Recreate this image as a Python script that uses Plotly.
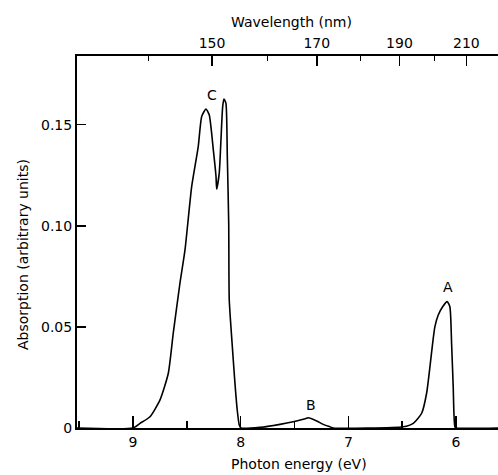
import plotly.graph_objects as go

# Absorption spectrum (photon energy in eV, absorption arb. units)
energy = [9.52, 9.0, 8.935, 8.842, 8.749, 8.672, 8.626, 8.564, 8.517, 8.455, 8.394, 8.362,
          8.322, 8.292, 8.254, 8.229, 8.223, 8.199, 8.183, 8.167, 8.155, 8.137, 8.124, 8.111,
          8.106, 8.084, 8.053, 8.032, 8.013, 7.997, 7.82, 7.635, 7.512, 7.387, 7.372, 7.294,
          7.233, 7.171, 7.14, 6.49, 6.397, 6.319, 6.273, 6.242, 6.217, 6.196, 6.165, 6.124,
          6.082, 6.057, 6.041, 6.026, 6.01, 5.995, 5.61]
absorption = [0.0, 0.0, 0.0023, 0.0056, 0.0139, 0.0271, 0.0469, 0.0716, 0.0881, 0.1194, 0.1392, 0.1541,
              0.1578, 0.1549, 0.1376, 0.1244, 0.1182, 0.1261, 0.1426, 0.1590, 0.1627, 0.1607, 0.1343, 0.1013,
              0.0634, 0.0452, 0.0221, 0.0089, 0.0015, 0.0, 0.0003, 0.0018, 0.0031, 0.0048, 0.0051, 0.0035,
              0.0018, 0.0006, 0.0, 0.0006, 0.0023, 0.0073, 0.0172, 0.0303, 0.0419, 0.0501, 0.0559, 0.0600,
              0.0625, 0.0600, 0.0419, 0.0204, 0.0006, 0.0, 0.0]

peak_labels = ["C", "B", "A"]
peak_label_energy = [8.27, 7.35, 6.075]
peak_label_abs = [0.1645, 0.0115, 0.0695]

energy_ticks = [9, 8, 7, 6]
energy_minor = [9.5, 8.5, 7.5, 6.5]
y_ticks = [0, 0.05, 0.10, 0.15]
y_ticktext = ["0", "0.05", "0.10", "0.15"]
wavelength_ticks = [150, 170, 190, 210]
wavelength_minor = [140, 160, 180, 200]

HC = 1239.84  # eV*nm
x_range = [9.52, 5.61]
y_range = [0, 0.184]

FONT = "DejaVu Sans"
W, H = 498, 475
ML, MR, MT, MB = 77, 0, 56, 47
PW, PH = W - ML - MR, H - MT - MB


def px(xp):
    return (xp - ML) / PW


def py(yp):
    return (H - MB - yp) / PH


fig = go.Figure()
fig.add_trace(go.Scatter(x=energy, y=absorption, mode="lines",
                         line=dict(color="black", width=1.6, shape="spline", smoothing=0.55),
                         showlegend=False, hoverinfo="skip", cliponaxis=True))
fig.add_trace(go.Scatter(x=[energy[0]], y=[0], xaxis="x2", mode="markers",
                         marker=dict(opacity=0), showlegend=False, hoverinfo="skip"))

for t, xe, ya in zip(peak_labels, peak_label_energy, peak_label_abs):
    fig.add_annotation(x=xe, y=ya, text=t, showarrow=False,
                       font=dict(family=FONT, size=14, color="black"))

# axis titles
fig.add_annotation(xref="paper", yref="paper", x=px(291), y=py(22), text="Wavelength (nm)",
                   showarrow=False, xanchor="center", yanchor="middle")
fig.add_annotation(xref="paper", yref="paper", x=px(299), y=py(464), text="Photon energy (eV)",
                   showarrow=False, xanchor="center", yanchor="middle")
fig.add_annotation(xref="paper", yref="paper", x=px(23), y=py(255), text="Absorption (arbitrary units)",
                   showarrow=False, xanchor="center", yanchor="middle", textangle=-90)

fig.update_layout(
    width=W, height=H,
    margin=dict(l=ML, r=MR, t=MT, b=MB, pad=0),
    paper_bgcolor="white", plot_bgcolor="white",
    font=dict(family=FONT, size=14, color="black"),
    xaxis=dict(range=x_range, tickmode="array", tickvals=energy_ticks,
               ticktext=[str(v) for v in energy_ticks], automargin=False,
               ticks="inside", ticklen=12, tickwidth=1.5, tickcolor="black",
               minor=dict(tickmode="array", tickvals=energy_minor, ticks="inside",
                          ticklen=7, tickwidth=1.5, tickcolor="black"),
               showline=True, linewidth=2, linecolor="black", showgrid=False, zeroline=False),
    xaxis2=dict(overlaying="x", side="top", range=x_range, tickmode="array",
                tickvals=[HC / w for w in wavelength_ticks],
                ticktext=[str(w) for w in wavelength_ticks], automargin=False,
                ticks="inside", ticklen=10, tickwidth=1.5, tickcolor="black",
                minor=dict(tickmode="array", tickvals=[HC / w for w in wavelength_minor],
                           ticks="inside", ticklen=5, tickwidth=1.5, tickcolor="black"),
                showline=True, linewidth=2, linecolor="black", showgrid=False, zeroline=False),
    yaxis=dict(range=y_range, tickmode="array", tickvals=y_ticks, ticktext=y_ticktext,
               automargin=False,
               ticks="inside", ticklen=9, tickwidth=1.5, tickcolor="black",
               showline=True, linewidth=2, linecolor="black", showgrid=False, zeroline=False),
)

fig.write_html("out.html", config={"displayModeBar": False, "staticPlot": True},
               post_script="document.body.style.margin='0';document.body.style.overflow='hidden';")
